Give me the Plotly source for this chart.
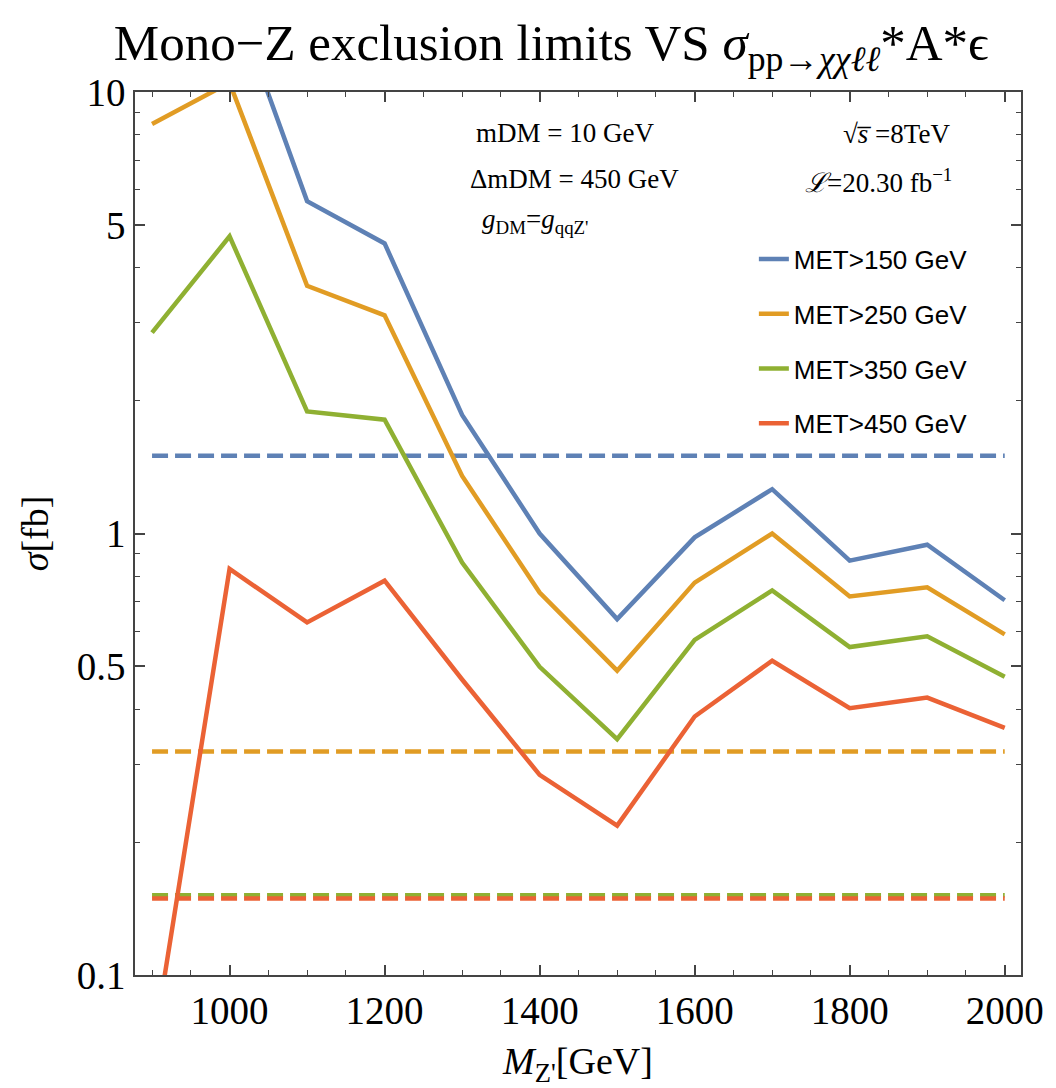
import plotly.graph_objects as go

# Z' mass points [GeV]
mass = [900, 1000, 1100, 1200, 1300, 1400, 1500, 1600, 1700, 1800, 1900, 2000]

# sigma * A * eff [fb] for each MET cut
sigma_met150 = [24.0, 17.3, 5.66, 4.54, 1.855, 1.0, 0.64, 0.98, 1.26, 0.868, 0.943, 0.706]
sigma_met250 = [8.46, 10.5, 3.64, 3.12, 1.35, 0.735, 0.489, 0.774, 1.0, 0.72, 0.755, 0.591]
sigma_met350 = [2.85, 4.71, 1.89, 1.81, 0.859, 0.499, 0.342, 0.574, 0.743, 0.553, 0.585, 0.474]
sigma_met450 = [0.066, 0.831, 0.629, 0.782, 0.467, 0.284, 0.218, 0.385, 0.515, 0.402, 0.425, 0.363]

# observed exclusion limits [fb] for each MET cut
limit_values = [1.5, 0.321, 0.1515, 0.149]

labels = ["MET>150 GeV", "MET>250 GeV", "MET>350 GeV", "MET>450 GeV"]
colors = ["#5E81B5", "#E19C24", "#8FB032", "#EB6235"]

x_major = [1000, 1200, 1400, 1600, 1800, 2000]
x_minor = [900, 950, 1050, 1100, 1150, 1250, 1300, 1350, 1450, 1500, 1550,
           1650, 1700, 1750, 1850, 1900, 1950]
y_major = [0.1, 0.5, 1, 5, 10]
y_major_text = ["0.1", "0.5", "1", "5", "10"]
y_minor = [0.2, 0.3, 0.4, 0.6, 0.7, 0.8, 0.9, 2, 3, 4, 6, 7, 8, 9]

serif = "Liberation Serif"
sans = "Liberation Sans"

fig = go.Figure()

# horizontal limit lines (dashed), one per MET cut
for lim, col in zip(limit_values, colors):
    fig.add_trace(go.Scatter(
        x=[mass[0], mass[-1]], y=[lim, lim], mode="lines",
        line=dict(color=col, width=4.5, dash="16px,7px"),
        showlegend=False, hoverinfo="skip"))

# cross-section curves
for ys, lab, col in zip([sigma_met150, sigma_met250, sigma_met350, sigma_met450],
                        labels, colors):
    fig.add_trace(go.Scatter(
        x=mass, y=ys, mode="lines", name=lab, legendgroup=lab,
        line=dict(color=col, width=4.5)))

frame = "#444444"

fig.update_layout(
    width=1056, height=1088,
    margin=dict(l=135, r=32, t=92, b=106),
    paper_bgcolor="white", plot_bgcolor="white",
    title=dict(
        text="Mono−Z exclusion limits VS <i>σ</i><sub>pp→<i>χχℓℓ</i></sub>*A*ϵ",
        font=dict(family=serif, size=51, color="black"),
        x=0.522, xref="container", xanchor="center",
        y=1 - 42 / 1088, yref="container", yanchor="middle"),
    showlegend=True,
    legend=dict(
        x=0.6985, y=0.8375, xanchor="left", yanchor="top",
        font=dict(family=sans, size=26, color="black"),
        bgcolor="rgba(0,0,0,0)", tracegroupgap=18, itemwidth=30),
    xaxis=dict(
        range=[878, 2021], showgrid=False, zeroline=False,
        showline=True, linecolor=frame, linewidth=1.5, mirror="ticks",
        ticks="inside", ticklen=10, tickcolor=frame, tickwidth=1.5,
        tickmode="array", tickvals=x_major,
        tickfont=dict(family=serif, size=39, color="black"),
        minor=dict(tickmode="array", tickvals=x_minor, ticks="inside",
                   ticklen=5, tickcolor=frame, tickwidth=1.2, showgrid=False),
        title=dict(text="<i>M</i><sub>Z'</sub>[GeV]",
                   font=dict(family=serif, size=38, color="black"),
                   standoff=18)),
    yaxis=dict(
        type="log", range=[-1, 1], showgrid=False, zeroline=False,
        showline=True, linecolor=frame, linewidth=1.5, mirror="ticks",
        ticks="inside", ticklen=10, tickcolor=frame, tickwidth=1.5,
        tickmode="array", tickvals=y_major, ticktext=y_major_text,
        tickfont=dict(family=serif, size=39, color="black"),
        minor=dict(tickmode="array", tickvals=y_minor, ticks="inside",
                   ticklen=5, tickcolor=frame, tickwidth=1.2, showgrid=False),
        title=dict(text="<i>σ</i>[fb]",
                   font=dict(family=serif, size=38, color="black"),
                   standoff=16)),
)

notes = [
    ("mDM = 10 GeV", 0.485, 0.954),
    ("ΔmDM = 450 GeV", 0.496, 0.901),
    ("<i>g</i><sub>DM</sub>=<i>g</i><sub>qqZ'</sub>", 0.452, 0.854),
    ("√<i>s̅</i> =8TeV", 0.859, 0.952),
    ("<i>ℒ</i>=20.30 fb<sup>−1</sup>", 0.839, 0.899),
]
for txt, xp, yp in notes:
    fig.add_annotation(text=txt, x=xp, y=yp, xref="paper", yref="paper",
                       xanchor="center", yanchor="middle", showarrow=False,
                       font=dict(family=serif, size=27, color="black"))

fig.write_html("out.html")
